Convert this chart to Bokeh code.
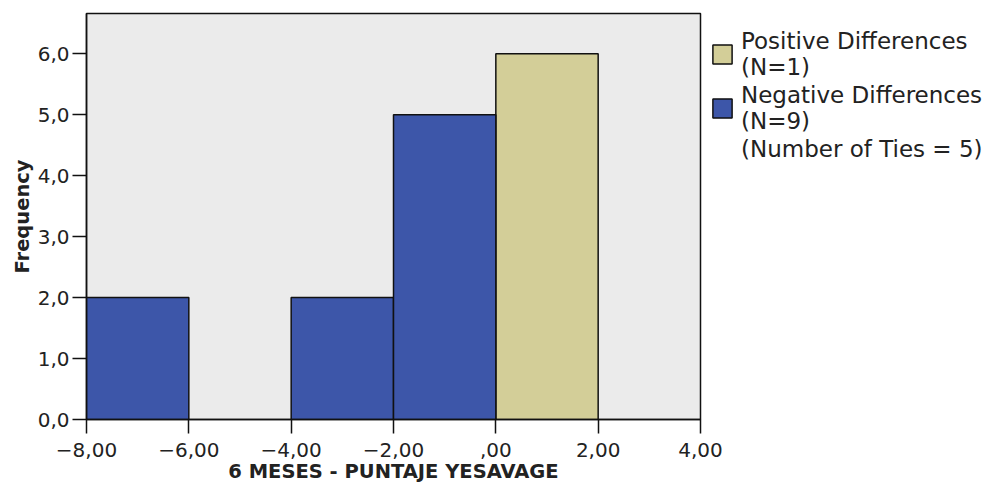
from bokeh.plotting import figure
from bokeh.models import FixedTicker, Legend, LegendItem, Range1d
from bokeh.embed import file_html
from bokeh.resources import INLINE

# Data
neg_left = [-8, -4, -2]
neg_right = [-6, -2, 0]
neg_count = [2, 2, 5]
pos_left = [0]
pos_right = [2]
pos_count = [6]

x_ticks = [-8, -6, -4, -2, 0, 2, 4]
x_tick_labels = ["\u22128,00", "\u22126,00", "\u22124,00", "\u22122,00", ",00", "2,00", "4,00"]
y_ticks = [0, 1, 2, 3, 4, 5, 6]
y_tick_labels = ["0,0", "1,0", "2,0", "3,0", "4,0", "5,0", "6,0"]

BLUE = "#3D56A9"
TAN = "#D3CE98"
FONT = "DejaVu Sans"

p = figure(frame_width=614, frame_height=406,
           x_range=Range1d(-8, 4), y_range=Range1d(0, 6.66),
           output_backend="svg", toolbar_location=None,
           min_border_left=86, min_border_top=13, min_border_bottom=67,
           min_border_right=0,
           background_fill_color="#EBEBEB", border_fill_color="white",
           outline_line_color="#111111", outline_line_width=1.5)
p.grid.visible = False

pos_r = p.quad(left=pos_left, right=pos_right, bottom=0, top=pos_count,
               fill_color=TAN, line_color="#111111", line_width=1.5)
neg_r = p.quad(left=neg_left, right=neg_right, bottom=0, top=neg_count,
               fill_color=BLUE, line_color="#111111", line_width=1.5)
ties_r = p.quad(left=[0], right=[0], bottom=[0], top=[0],
                fill_alpha=0, line_alpha=0)

for ax, ticks, labels in ((p.xaxis[0], x_ticks, x_tick_labels),
                          (p.yaxis[0], y_ticks, y_tick_labels)):
    ax.ticker = FixedTicker(ticks=ticks)
    ax.major_label_overrides = {t: l for t, l in zip(ticks, labels)}
    ax.minor_tick_line_color = None
    ax.major_tick_in = 0
    ax.major_tick_out = 14
    ax.major_tick_line_color = "#111111"
    ax.major_tick_line_width = 1.5
    ax.axis_line_color = "#111111"
    ax.axis_line_width = 1.5
    ax.major_label_text_font = FONT
    ax.major_label_text_font_size = "20px"
    ax.major_label_text_color = "#222222"
    ax.axis_label_text_font = FONT
    ax.axis_label_text_font_style = "bold"
    ax.axis_label_text_font_size = "19.5px"
    ax.axis_label_text_color = "#222222"

p.xaxis.axis_label = "6 MESES - PUNTAJE YESAVAGE"
p.xaxis.axis_label_standoff = 0
p.xaxis.major_label_standoff = 9
p.yaxis.axis_label = "Frequency"
p.yaxis.axis_label_standoff = 1
p.yaxis.major_label_standoff = 3

legend = Legend(items=[
    LegendItem(label="Positive Differences\n(N=1)", renderers=[pos_r]),
    LegendItem(label="Negative Differences\n(N=9)", renderers=[neg_r]),
    LegendItem(label="(Number of Ties = 5)", renderers=[ties_r]),
], location="top_left", margin=10, padding=0, spacing=2,
    glyph_width=24, glyph_height=24, label_standoff=7,
    label_text_font=FONT, label_text_font_size="23px",
    label_text_line_height=1.12,
    title=" ", title_text_font_size="1px", title_standoff=4,
    label_text_color="#222222", border_line_color=None,
    background_fill_alpha=0)
p.add_layout(legend, "right")

open("out.html", "w").write(file_html(p, INLINE))
